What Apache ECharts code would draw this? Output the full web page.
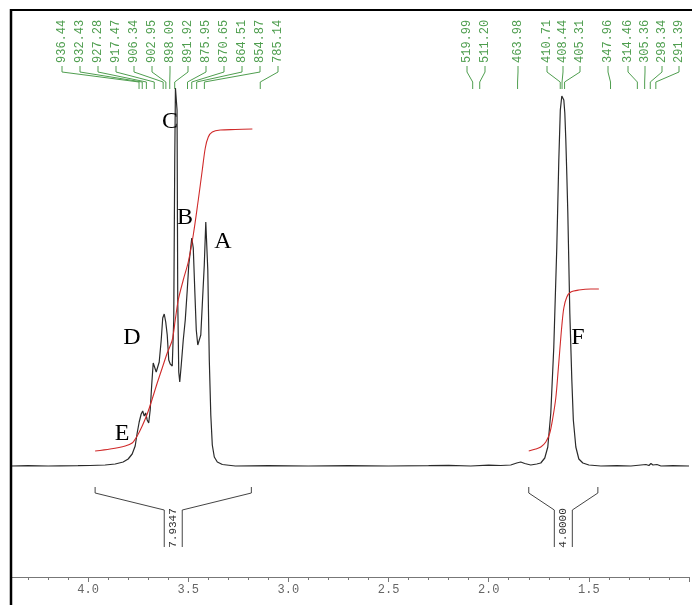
<!DOCTYPE html>
<html><head><meta charset="utf-8">
<script src="https://cdn.jsdelivr.net/npm/echarts@6.0.0/dist/echarts.min.js"></script>
<style>html,body{margin:0;padding:0;background:#fff}#c{width:693px;height:605px}</style>
</head><body><div id="c"></div>
<script>
// ---------------- data ----------------
const spectrometerMHz = 250;
const xTickLabels = ['1.5', '2.0', '2.5', '3.0', '3.5', '4.0'];

const spectrumPpm = [
  4.385, 4.30, 4.20, 4.14, 4.05, 3.99, 3.915, 3.865, 3.825, 3.80, 3.78, 3.765, 3.755, 3.745, 3.735,
  3.7275, 3.72, 3.7125, 3.705, 3.6975, 3.69, 3.6825, 3.675, 3.6675, 3.66, 3.6525, 3.645, 3.635,
  3.6275, 3.62, 3.6125, 3.605, 3.5975, 3.59, 3.58, 3.5725, 3.5675, 3.564, 3.56, 3.556, 3.5525,
  3.5475, 3.5425, 3.535, 3.525, 3.515, 3.505, 3.4975, 3.49, 3.4825, 3.475, 3.4675, 3.46, 3.4525,
  3.445, 3.4375, 3.43, 3.42, 3.4125, 3.4075, 3.4025, 3.395, 3.3875, 3.38, 3.37, 3.355, 3.33, 3.265,
  3.10, 2.90, 2.70, 2.50, 2.30, 2.20, 2.09, 2.00, 1.94, 1.89, 1.86, 1.84, 1.82, 1.79, 1.76, 1.74,
  1.72, 1.705, 1.69, 1.675, 1.66, 1.65, 1.6425, 1.635, 1.63, 1.625, 1.62, 1.615, 1.61, 1.605,
  1.595, 1.585, 1.5775, 1.565, 1.55, 1.53, 1.50, 1.44, 1.36, 1.29, 1.24, 1.215, 1.20, 1.19, 1.18,
  1.16, 1.14, 1.08, 1.0
];
const spectrumIntensity = [
  0, 0.3, 0, 0.2, 0.3, 0.5, 1, 2, 4, 7, 12, 20, 33, 44, 52,
  55, 50, 53, 46, 43, 56, 81, 103, 104, 94, 96, 104, 126,
  148, 152, 144, 131, 106, 102, 100, 146, 306, 378, 376, 356, 166,
  94, 84, 101, 126, 146, 176, 201, 214, 228, 218, 176, 136, 121,
  120, 131, 161, 201, 244, 246, 196, 106, 51, 21, 9, 4, 1.5, 0,
  0.3, 0, 0.4, 0, 0.3, 0.6, 0, 0.8, 0.5, 1, 3, 4, 2.5, 1, 2, 3,
  8, 19, 53, 119, 219, 306, 356, 370, 371, 366, 353, 326, 291, 253,
  153, 86, 46, 19, 7, 3, 1, 0, 0.4, 0, 1, 1.5, 0.5, 2.5, 1,
  1.5, 0, 0.4, 0
];

const integral1Ppm = [3.965, 3.89, 3.815, 3.78, 3.755, 3.73, 3.705, 3.68, 3.655, 3.63, 3.605, 3.58,
  3.565, 3.55, 3.525, 3.50, 3.475, 3.45, 3.43, 3.415, 3.40, 3.38, 3.34, 3.265, 3.18];
const integral1Value = [15, 17, 20, 23, 30, 40, 52, 67, 83, 98, 113, 126,
  146, 166, 186, 204, 231, 266, 296, 318, 329, 334, 336, 336.5, 337];

const integral2Ppm = [1.80, 1.765, 1.74, 1.715, 1.695, 1.68, 1.665, 1.655, 1.645, 1.635, 1.625,
  1.61, 1.59, 1.55, 1.49, 1.45];
const integral2Value = [15, 17, 19, 24, 33, 48, 68, 91, 116, 140, 158,
  169, 174, 176, 177, 177];

const leftPeaksHz = [936.44, 932.43, 927.28, 917.47, 906.34, 902.95, 898.09, 891.92, 875.95, 870.65, 864.51, 854.87, 785.14];
const rightPeaksHz = [519.99, 511.20, 463.98, 410.71, 408.44, 405.31, 347.96, 314.46, 305.36, 298.34, 291.39];

const integralStartPpm = [3.965, 1.80];
const integralEndPpm = [3.185, 1.455];
const integralLabels = ['7.9347', '4.0000'];

const peakLetters = ['A', 'B', 'C', 'D', 'E', 'F'];

// ---------------- layout ----------------
const leftLabelX = leftPeaksHz.map((_, i) => 62 + 18 * i);
const rightLabelX = [467, 485, 518, 547, 563, 580, 608, 628, 645, 662, 679];
const letterPos = [[223, 242], [185, 218], [170, 122], [132, 338], [122, 434], [578, 338]];

const chart = echarts.init(document.getElementById('c'), null, {renderer: 'canvas'});

const peaks = leftPeaksHz.map((h, i) => [h / spectrometerMHz, leftLabelX[i], h])
  .concat(rightPeaksHz.map((h, i) => [h / spectrometerMHz, rightLabelX[i], h]));

const green = '#4f9e4f';

const option = {
  animation: false,
  backgroundColor: '#fff',
  grid: {left: 11, right: 4, top: 11, bottom: 28},
  xAxis: {
    type: 'value', min: 1.0, max: 4.385, inverse: true, interval: 0.5,
    axisLine: {onZero: false, lineStyle: {color: '#777', width: 1}},
    axisTick: {length: 5, lineStyle: {color: '#777'}},
    minorTick: {show: true, splitNumber: 5, length: 3, lineStyle: {color: '#777'}},
    splitLine: {show: false}, minorSplitLine: {show: false},
    axisLabel: {
      margin: 7, color: '#666', fontFamily: 'Liberation Mono', fontSize: 12,
      showMinLabel: false, showMaxLabel: false,
      formatter: v => { const s = v.toFixed(1); return xTickLabels.includes(s) ? s : ''; }
    }
  },
  yAxis: {type: 'value', min: -111, max: 455, show: false},
  series: [
    {
      type: 'line', data: spectrumPpm.map((p, i) => [p, spectrumIntensity[i]]),
      showSymbol: false, lineStyle: {color: '#2a2a2a', width: 1.2}, z: 3
    },
    {
      type: 'line', data: integral1Ppm.map((p, i) => [p, integral1Value[i]]),
      showSymbol: false, smooth: 0.3, lineStyle: {color: '#d02a2a', width: 1.1}, z: 4
    },
    {
      type: 'line', data: integral2Ppm.map((p, i) => [p, integral2Value[i]]),
      showSymbol: false, smooth: 0.3, lineStyle: {color: '#d02a2a', width: 1.1}, z: 4
    },
    {
      type: 'custom', coordinateSystem: 'cartesian2d', clip: false, z: 5,
      data: peaks,
      encode: {x: 0, y: 1},
      renderItem: (params, api) => {
        const px = api.coord([api.value(0), 0])[0];
        const lx = api.value(1);
        const hz = peaks[params.dataIndex][2];
        return {
          type: 'group',
          children: [
            {type: 'polyline', shape: {points: [[lx, 66], [lx, 72], [px, 82], [px, 89]]},
             style: {stroke: green, lineWidth: 1, fill: null}},
            {type: 'text', x: lx, y: 63, rotation: Math.PI / 2,
             style: {text: hz.toFixed(2), fill: green, font: '12px "Liberation Mono"', align: 'left', verticalAlign: 'middle'}}
          ]
        };
      }
    },
    {
      type: 'custom', coordinateSystem: 'cartesian2d', clip: false, z: 5,
      data: integralStartPpm.map((s, i) => [s, integralEndPpm[i]]),
      encode: {x: [0, 1]},
      renderItem: (params, api) => {
        const a = api.coord([api.value(0), 0]);
        const b = api.coord([api.value(1), 0]);
        const y0 = a[1];
        const cx = (a[0] + b[0]) / 2;
        const st = {stroke: '#444', lineWidth: 1, fill: null};
        return {
          type: 'group',
          children: [
            {type: 'polyline', shape: {points: [[a[0], y0 + 21], [a[0], y0 + 27], [cx - 9, y0 + 44], [cx - 9, y0 + 81]]}, style: st},
            {type: 'polyline', shape: {points: [[b[0], y0 + 21], [b[0], y0 + 27], [cx + 9, y0 + 44], [cx + 9, y0 + 81]]}, style: st},
            {type: 'text', x: cx, y: y0 + 62, rotation: Math.PI / 2,
             style: {text: integralLabels[params.dataIndex], fill: '#333', font: '11px "Liberation Mono"', align: 'center', verticalAlign: 'middle'}}
          ]
        };
      }
    }
  ],
  graphic: [
    {type: 'line', shape: {x1: 11, y1: 10, x2: 692, y2: 10}, style: {stroke: '#000', lineWidth: 2}, z: 10},
    {type: 'line', shape: {x1: 11, y1: 9, x2: 11, y2: 605}, style: {stroke: '#000', lineWidth: 2.5}, z: 10}
  ].concat(peakLetters.map((t, i) => ({
    type: 'text', x: letterPos[i][0], y: letterPos[i][1], z: 10,
    style: {text: t, fill: '#000', font: '24px "Liberation Serif"', align: 'center', verticalAlign: 'middle'}
  })))
};
chart.setOption(option);
</script>
</body></html>
